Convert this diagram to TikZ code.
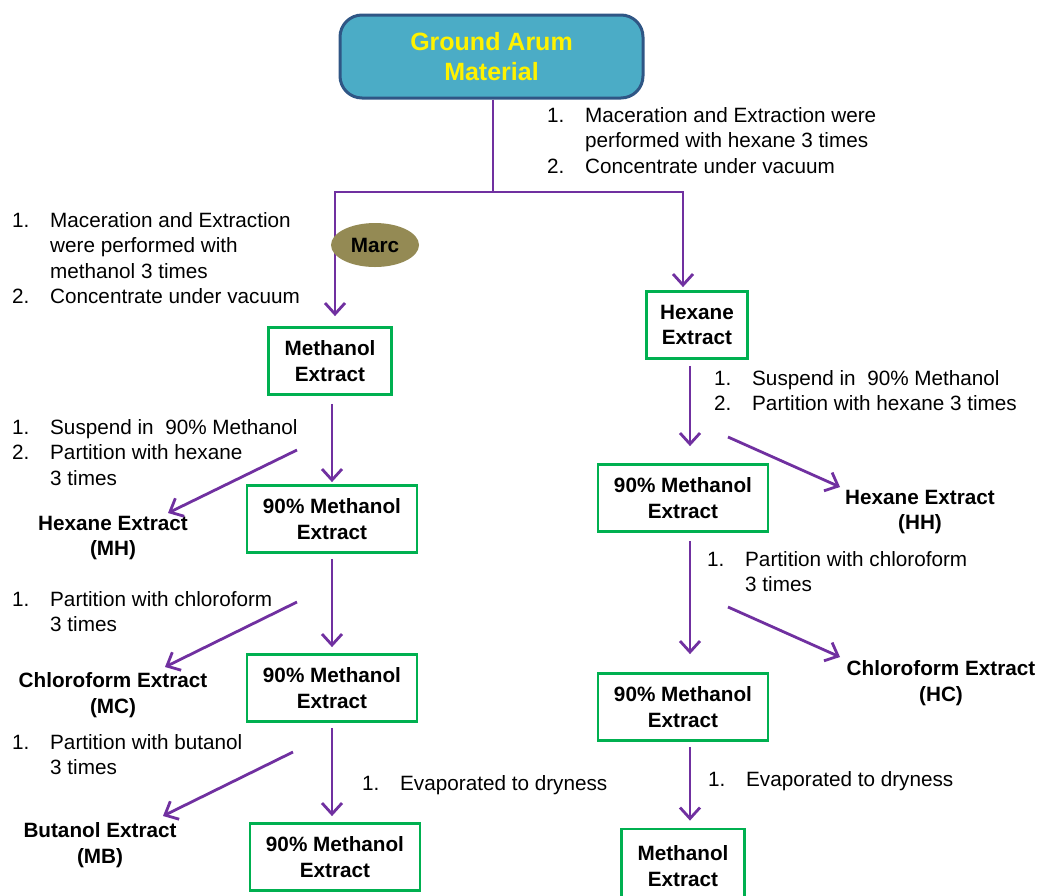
\documentclass[tikz,border=0pt]{standalone}
\usepackage{fontspec}
\setmainfont{Liberation Sans}
\usetikzlibrary{arrows.meta,shapes.geometric}
\definecolor{arumblue}{HTML}{4BACC6}
\definecolor{arumedge}{HTML}{2F5685}
\definecolor{marcolive}{HTML}{948A54}
\definecolor{flowpurple}{HTML}{7030A0}
\definecolor{boxgreen}{HTML}{00B050}
\newcommand{\steplist}[1]{\begin{tabular}[t]{@{}p{38pt}@{}l@{}}#1\end{tabular}}

\begin{document}
\begin{tikzpicture}[x=1pt,y=-1pt,
    font=\fontsize{20.7}{25.5}\selectfont,
    link/.style={draw=flowpurple, line width=2.8pt},
    flow/.style={link, -{Straight Barb[length=11pt,width=20pt]}},
    extract/.style={draw=boxgreen, line width=2.8pt, minimum height=67pt, inner xsep=16pt,
        align=center, font=\fontsize{20.7}{25.5}\selectfont\bfseries},
    product/.style={align=center, font=\fontsize{20.7}{25.5}\selectfont\bfseries},
    notes/.style={anchor=base west, inner sep=0pt}]
        \useasboundingbox (0,0) rectangle (1042,895);
        \node (gam) at (491.5,56.5) [rectangle, rounded corners=22pt, fill=arumblue, draw=arumedge,
            line width=3pt, minimum width=303pt, minimum height=83pt, align=center, text=yellow,
            font=\fontsize{25}{30}\selectfont\bfseries] {Ground Arum\\Material};
        \node (mx) at (330,361) [extract] {Methanol\\Extract};
        \node (hx) at (697,325) [extract, inner xsep=14pt] {Hexane\\Extract};
        \node (m1) at (332,519) [extract] {90\% Methanol\\Extract};
        \node (m2) at (332,688) [extract] {90\% Methanol\\Extract};
        \node (m3) at (335,857) [extract] {90\% Methanol\\Extract};
        \node (h1) at (683,498) [extract] {90\% Methanol\\Extract};
        \node (h2) at (683,707) [extract] {90\% Methanol\\Extract};
        \node (hm) at (683,866) [extract, minimum height=74pt] {Methanol\\Extract};
        \node (mh) at (113,538) [product] {Hexane Extract\\(MH)};
        \node (mc) at (113,695) [product] {Chloroform Extract\\(MC)};
        \node (mb) at (100,845) [product] {Butanol Extract\\(MB)};
        \node (hh) at (920,512) [product] {Hexane Extract\\(HH)};
        \node (hc) at (941,683) [product] {Chloroform Extract\\(HC)};
        \node (s0) at (547,122) [notes] {\steplist{1.&Maceration and Extraction were\\ &performed with hexane 3 times\\2.&Concentrate under vacuum}};
        \node (s1) at (12,227) [notes] {\steplist{1.&Maceration and Extraction\\ &were performed with\\ &methanol 3 times\\2.&Concentrate under vacuum}};
        \node (s2) at (12,434) [notes] {\steplist{1.&Suspend in\ \ 90\% Methanol\\2.&Partition with hexane\\ &3 times}};
        \node (s3) at (12,606) [notes] {\steplist{1.&Partition with chloroform\\ &3 times}};
        \node (s4) at (12,749) [notes] {\steplist{1.&Partition with butanol\\ &3 times}};
        \node (s5) at (362,790) [notes] {\steplist{1.&Evaporated to dryness}};
        \node (s6) at (714,385) [notes] {\steplist{1.&Suspend in\ \ 90\% Methanol\\2.&Partition with hexane 3 times}};
        \node (s7) at (707,566) [notes] {\steplist{1.&Partition with chloroform\\ &3 times}};
        \node (s8) at (708,786) [notes] {\steplist{1.&Evaporated to dryness}};
        \coordinate (split) at (493,192);
        \coordinate (lc) at (332,0);
        \coordinate (rc) at (690,0);
        \draw[link] (gam.south -| split) -- (split);
        \draw[flow, shorten >=10pt] (split) -| ([xshift=5pt]mx.north);
        \draw[flow, shorten >=3pt] (split) -| ([xshift=-14pt]hx.north);
        \draw[flow, shorten <=8pt, shorten >=2pt] (mx.south -| lc) -- (m1.north -| lc);
        \draw[flow, shorten <=5pt, shorten >=6pt] (m1.south -| lc) -- (m2.north -| lc);
        \draw[flow, shorten <=5pt, shorten >=6pt] (m2.south -| lc) -- (m3.north -| lc);
        \draw[flow, shorten <=6pt, shorten >=17pt] (hx.south -| rc) -- (h1.north -| rc);
        \draw[flow, shorten <=8pt, shorten >=18pt] (h1.south -| rc) -- (h2.north -| rc);
        \draw[flow, shorten <=5pt, shorten >=7pt] (h2.south -| rc) -- (hm.north -| rc);
        \coordinate (mh-from) at (297,450);
        \coordinate (mh-to) at (168,513);
        \coordinate (mc-from) at (297,602);
        \coordinate (mc-to) at (165,667);
        \coordinate (mb-from) at (293,752);
        \coordinate (mb-to) at (163,816);
        \coordinate (hh-from) at (728,437);
        \coordinate (hh-to) at (840,487);
        \coordinate (hc-from) at (728,607);
        \coordinate (hc-to) at (840,657);
        \draw[flow] (mh-from) -- (mh-to);
        \draw[flow] (mc-from) -- (mc-to);
        \draw[flow] (mb-from) -- (mb-to);
        \draw[flow] (hh-from) -- (hh-to);
        \draw[flow] (hc-from) -- (hc-to);
        \node (marc) at (375,245) [ellipse, fill=marcolive, minimum width=88pt, minimum height=44pt,
            inner sep=0pt, font=\fontsize{20.7}{25.5}\selectfont\bfseries] {Marc};
\end{tikzpicture}
\end{document}
